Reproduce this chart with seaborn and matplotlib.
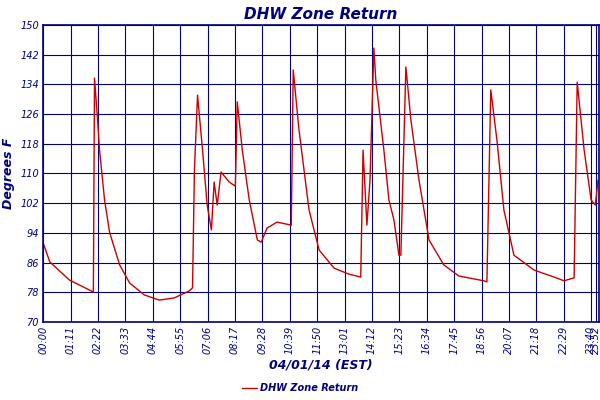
import matplotlib
matplotlib.use("Agg")
import matplotlib.pyplot as plt
import seaborn as sns
import pandas as pd

# minutes after midnight, degrees F
minutes = [0, 17, 68, 120, 130, 133, 141, 146, 159, 172, 198, 224, 262, 301, 340, 379, 387,
           392, 400, 413, 425, 436, 443, 451, 461, 482, 498, 503, 516, 534, 555, 565, 580,
           606, 643, 648, 663, 689, 715, 754, 792, 823, 829, 839, 847, 857, 862, 883, 896,
           909, 922, 927, 940, 953, 974, 1000, 1038, 1077, 1142, 1150, 1160, 1176, 1194,
           1220, 1272, 1324, 1350, 1376, 1384, 1402, 1420, 1431, 1438]
temps = [91.3, 86.2, 81.3, 78.6, 78.1, 135.7, 124.4, 116.3, 102.9, 94.2, 85.4, 80.5, 77.3,
         75.9, 76.5, 78.4, 79.2, 111, 131.1, 116.3, 101.5, 94.8, 107.7, 101.5, 110.4, 107.7,
         106.6, 129.3, 116.3, 102.9, 92.1, 91.5, 95.3, 96.9, 96.1, 137.9, 121.7, 100.2, 89.4,
         84.5, 82.9, 82.1, 116.3, 96.1, 108.2, 143.8, 135.2, 116.3, 102.9, 97.5, 88.0, 88.0,
         138.7, 124.4, 108.2, 92.1, 85.4, 82.4, 81.1, 80.8, 132.5, 119, 100.2, 88.0, 84.0,
         82.1, 81.1, 81.9, 134.6, 116.3, 102.9, 101.5, 108.2]
tick_minutes = [i * 71 for i in range(21)] + [1432]
tick_labels = ["%02d:%02d" % (m // 60, m % 60) for m in tick_minutes]
y_ticks = list(range(70, 151, 8))

NAVY = "#000080"
df = pd.DataFrame({"t": minutes, "v": temps})

sns.set_style("white")
fig = plt.figure(figsize=(6, 4), dpi=100)
ax = fig.add_axes([0.072, 0.195, 0.926, 0.7425])
sns.lineplot(data=df, x="t", y="v", ax=ax, color="#cc0000", linewidth=1, label="DHW Zone Return")

ax.set_xlim(0, 1440)
ax.set_ylim(70, 150)
ax.set_xticks(tick_minutes)
ax.set_xticklabels(tick_labels, rotation=90, fontsize=7, style="italic", color=NAVY)
ax.set_yticks(y_ticks)
ax.set_yticklabels(y_ticks, fontsize=7, style="italic", color=NAVY)
ax.grid(True, color=NAVY, linewidth=0.8)
ax.tick_params(length=0, pad=3)
for s in ax.spines.values():
    s.set_color(NAVY)
    s.set_linewidth(1.2)

ax.set_title("DHW Zone Return", fontsize=11, style="italic", weight="bold", color=NAVY, pad=4)
ax.set_xlabel("04/01/14 (EST)", fontsize=9, style="italic", weight="bold", color=NAVY, labelpad=3)
ax.set_ylabel("Degrees F", fontsize=9, style="italic", weight="bold", color=NAVY, labelpad=4)

handles, labels = ax.get_legend_handles_labels()
ax.get_legend().remove()
leg = fig.legend(handles, labels, loc="center", bbox_to_anchor=(0.5, 0.03), frameon=False,
                 fontsize=7, handlelength=1.5, handletextpad=0.3)
for t in leg.get_texts():
    t.set_color(NAVY)
    t.set_style("italic")
    t.set_weight("bold")

fig.savefig("out.png", dpi=100)
